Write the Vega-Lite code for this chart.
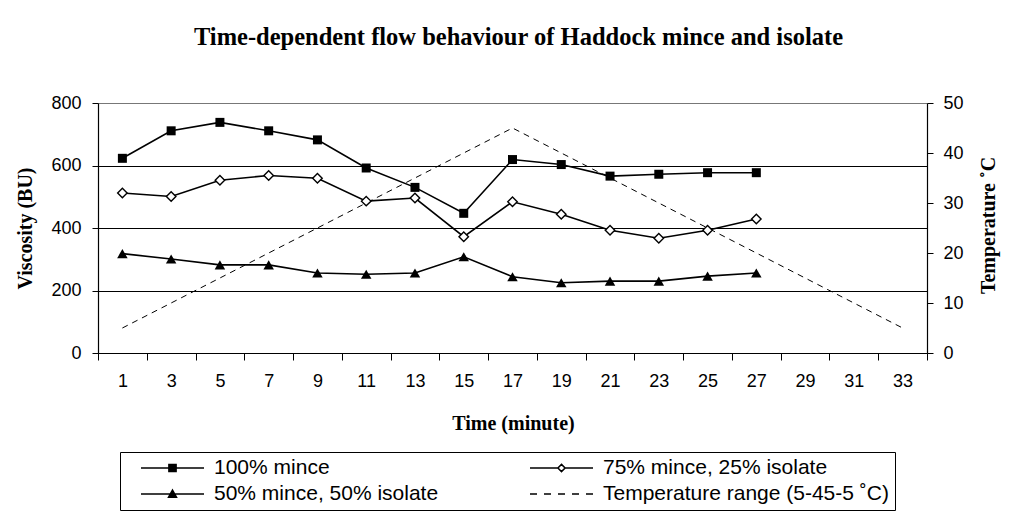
{
  "$schema": "https://vega.github.io/schema/vega-lite/v6.json",
  "autosize": {"type": "none"},
  "width": 829,
  "height": 250,
  "padding": {"left": 98, "top": 103, "right": 95, "bottom": 160},
  "background": "white",
  "title": {
    "text": "Time-dependent flow behaviour of Haddock mince and isolate",
    "font": "Liberation Serif",
    "fontSize": 24.5,
    "fontWeight": "bold",
    "color": "black",
    "anchor": "middle",
    "baseline": "alphabetic",
    "offset": 25,
    "dx": 6
  },
  "datasets": {
    "visc": [
      {"t": 1, "series": "100% mince", "v": 623},
      {"t": 3, "series": "100% mince", "v": 711},
      {"t": 5, "series": "100% mince", "v": 738},
      {"t": 7, "series": "100% mince", "v": 711},
      {"t": 9, "series": "100% mince", "v": 682},
      {"t": 11, "series": "100% mince", "v": 592},
      {"t": 13, "series": "100% mince", "v": 530},
      {"t": 15, "series": "100% mince", "v": 447},
      {"t": 17, "series": "100% mince", "v": 619},
      {"t": 19, "series": "100% mince", "v": 603},
      {"t": 21, "series": "100% mince", "v": 566},
      {"t": 23, "series": "100% mince", "v": 572},
      {"t": 25, "series": "100% mince", "v": 577},
      {"t": 27, "series": "100% mince", "v": 577},
      {"t": 1, "series": "75% mince, 25% isolate", "v": 512},
      {"t": 3, "series": "75% mince, 25% isolate", "v": 501},
      {"t": 5, "series": "75% mince, 25% isolate", "v": 553},
      {"t": 7, "series": "75% mince, 25% isolate", "v": 568},
      {"t": 9, "series": "75% mince, 25% isolate", "v": 559},
      {"t": 11, "series": "75% mince, 25% isolate", "v": 486},
      {"t": 13, "series": "75% mince, 25% isolate", "v": 496},
      {"t": 15, "series": "75% mince, 25% isolate", "v": 372},
      {"t": 17, "series": "75% mince, 25% isolate", "v": 484},
      {"t": 19, "series": "75% mince, 25% isolate", "v": 444},
      {"t": 21, "series": "75% mince, 25% isolate", "v": 393},
      {"t": 23, "series": "75% mince, 25% isolate", "v": 367},
      {"t": 25, "series": "75% mince, 25% isolate", "v": 393},
      {"t": 27, "series": "75% mince, 25% isolate", "v": 429},
      {"t": 1, "series": "50% mince, 50% isolate", "v": 318},
      {"t": 3, "series": "50% mince, 50% isolate", "v": 301},
      {"t": 5, "series": "50% mince, 50% isolate", "v": 282},
      {"t": 7, "series": "50% mince, 50% isolate", "v": 282},
      {"t": 9, "series": "50% mince, 50% isolate", "v": 256},
      {"t": 11, "series": "50% mince, 50% isolate", "v": 252},
      {"t": 13, "series": "50% mince, 50% isolate", "v": 256},
      {"t": 15, "series": "50% mince, 50% isolate", "v": 308},
      {"t": 17, "series": "50% mince, 50% isolate", "v": 244},
      {"t": 19, "series": "50% mince, 50% isolate", "v": 225},
      {"t": 21, "series": "50% mince, 50% isolate", "v": 230},
      {"t": 23, "series": "50% mince, 50% isolate", "v": 230},
      {"t": 25, "series": "50% mince, 50% isolate", "v": 246},
      {"t": 27, "series": "50% mince, 50% isolate", "v": 256}
    ],
    "temp": [
      {"t": 1, "temp": 5},
      {"t": 17, "temp": 45},
      {"t": 33, "temp": 5}
    ],
    "legend": [
      {"series": "100% mince"},
      {"series": "75% mince, 25% isolate"},
      {"series": "50% mince, 50% isolate"},
      {"series": "Temperature range (5-45-5 ˚C)"}
    ]
  },
  "encoding": {
    "x": {
      "field": "t",
      "type": "ordinal",
      "bandPosition": 0.5,
      "scale": {"type": "band", "domain": [1, 3, 5, 7, 9, 11, 13, 15, 17, 19, 21, 23, 25, 27, 29, 31, 33], "paddingInner": 0, "paddingOuter": 0},
      "axis": {
        "title": "Time (minute)",
        "tickBand": "extent",
        "labelAngle": 0,
        "tickSize": 7,
        "labelPadding": 12,
        "labelFontSize": 18,
        "grid": false,
        "titleX": 415,
        "titleY": 70,
        "titleBaseline": "middle",
        "titleAnchor": null,
        "encode": {"ticks": {"update": {"y": {"value": -7}}}}
      }
    }
  },
  "layer": [
    {
      "data": {"name": "temp"},
      "mark": {"type": "line", "color": "black", "strokeWidth": 1, "strokeDash": [6, 5]},
      "encoding": {
        "y": {
          "field": "temp",
          "type": "quantitative",
          "scale": {"domain": [0, 50], "nice": false},
          "axis": {
            "orient": "right",
            "title": "Temperature ˚C",
            "values": [0, 10, 20, 30, 40, 50],
            "tickSize": 6,
            "labelPadding": 10,
            "labelFontSize": 18,
            "grid": false,
            "titleAngle": -90,
            "titleX": 61,
            "titleY": 122,
            "titleBaseline": "middle",
            "titleAlign": "center",
            "encode": {"ticks": {"update": {"x": {"value": -7}}}}
          }
        }
      }
    },
    {
      "data": {"name": "visc"},
      "encoding": {
        "y": {
          "field": "v",
          "type": "quantitative",
          "scale": {"domain": [0, 800], "nice": false},
          "axis": {
            "orient": "left",
            "title": "Viscosity (BU)",
            "values": [0, 200, 400, 600, 800],
            "tickSize": 6,
            "labelPadding": 11,
            "labelFontSize": 18,
            "grid": true,
            "gridColor": {"condition": {"test": "datum.value === 800", "value": "#777777"}, "value": "black"},
            "gridWidth": 1,
            "titleAngle": -90,
            "titleX": -73,
            "titleY": 125,
            "titleBaseline": "middle",
            "titleAlign": "center"
          }
        }
      },
      "layer": [
        {
          "mark": {"type": "line", "color": "black", "strokeWidth": 1.6},
          "encoding": {"detail": {"field": "series", "type": "nominal"}}
        },
        {
          "transform": [{"filter": "datum.series === '100% mince'"}],
          "mark": {"type": "point", "shape": "square", "filled": true, "color": "black", "size": 81, "opacity": 1}
        },
        {
          "transform": [{"filter": "datum.series === '75% mince, 25% isolate'"}],
          "mark": {"type": "point", "shape": "diamond", "filled": true, "fill": "white", "stroke": "black", "strokeWidth": 1.4, "size": 90, "opacity": 1}
        },
        {
          "transform": [{"filter": "datum.series === '50% mince, 50% isolate'"}],
          "mark": {"type": "point", "shape": "triangle-up", "filled": true, "color": "black", "size": 110, "opacity": 1}
        }
      ]
    },
    {
      "data": {"name": "legend"},
      "mark": {"type": "point", "filled": true, "opacity": 0, "strokeWidth": 1.5},
      "encoding": {
        "shape": {
          "field": "series",
          "type": "nominal",
          "scale": {
            "domain": ["100% mince", "50% mince, 50% isolate", "75% mince, 25% isolate", "Temperature range (5-45-5 ˚C)"],
            "range": [
              "M-0.65,0H0.925M0.0475,-0.09H0.2275V0.09H0.0475Z",
              "M-0.65,0H0.925M0.1375,-0.1L0.2375,0.08H0.0375Z",
              "M-0.65,0H0.0475M0.2275,0H0.925M0.1375,-0.09L0.2275,0L0.1375,0.09L0.0475,0Z",
              "M-0.65,0H-0.475M-0.3,0H-0.125M0.05,0H0.225M0.4,0H0.575M0.75,0H0.925"
            ]
          },
          "legend": {
            "title": null,
            "orient": "none",
            "legendX": 22,
            "legendY": 349,
            "columns": 2,
            "columnPadding": 76,
            "rowPadding": 5,
            "padding": 6,
            "clipHeight": 20,
            "symbolSize": 6400,
            "labelOffset": 6,
            "labelFont": "Liberation Sans",
            "labelFontSize": 21,
            "labelColor": "black",
            "labelLimit": 500,
            "strokeColor": "black",
            "fillColor": "white",
            "symbolStrokeColor": "black",
            "symbolStrokeWidth": 1.5,
            "symbolOpacity": 1,
            "encode": {
              "symbols": {
                "update": {
                  "strokeWidth": {"value": 1.5},
                  "opacity": {"value": 1}
                }
              }
            }
          }
        },
        "fill": {
          "field": "series",
          "type": "nominal",
          "scale": {
            "domain": ["100% mince", "50% mince, 50% isolate", "75% mince, 25% isolate", "Temperature range (5-45-5 ˚C)"],
            "range": ["black", "black", "white", "transparent"]
          }
        },
        "stroke": {
          "field": "series",
          "type": "nominal",
          "scale": {
            "domain": ["100% mince", "50% mince, 50% isolate", "75% mince, 25% isolate", "Temperature range (5-45-5 ˚C)"],
            "range": ["black", "black", "black", "black"]
          }
        }
      }
    }
  ],
  "resolve": {"scale": {"y": "independent"}, "axis": {"y": "independent"}},
  "config": {
    "view": {"stroke": null},
    "axis": {
      "labelFont": "Liberation Sans",
      "labelColor": "black",
      "titleFont": "Liberation Serif",
      "titleFontWeight": "bold",
      "titleFontSize": 20,
      "titleColor": "black",
      "domainColor": "black",
      "domainWidth": 1.2,
      "tickColor": "black",
      "tickWidth": 1
    }
  }
}
